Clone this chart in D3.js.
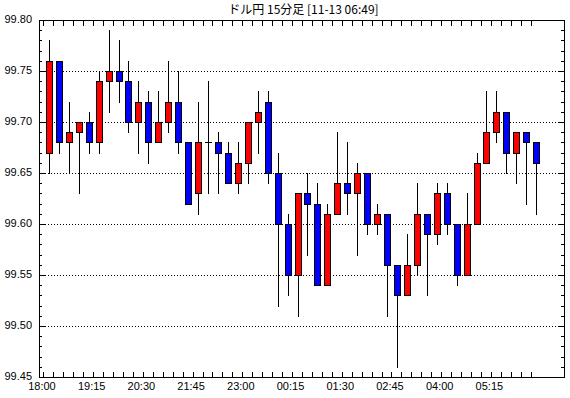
<!DOCTYPE html>
<html lang="ja">
<head>
<meta charset="utf-8">
<title>ドル円 15分足</title>
<script src="https://cdn.jsdelivr.net/npm/d3@7"></script>
<style>
  html, body { margin: 0; padding: 0; background: #fff; }
  svg { display: block; }
  .axis-label { font-family: "Liberation Sans", Arial, sans-serif; font-size: 11px; fill: #000; }
  .title { font-family: "Noto Sans CJK JP", sans-serif; font-size: 12px; fill: #000; }
</style>
</head>
<body>
<div id="chart"></div>
<script>
// ローソク足データ（15分足）
const opens  = [99.67, 99.76, 99.68, 99.69, 99.70, 99.68, 99.74, 99.75, 99.74, 99.70,
                99.72, 99.68, 99.70, 99.72, 99.68, 99.63, 99.68, 99.68, 99.67, 99.64,
                99.66, 99.70, 99.72, 99.65, 99.60, 99.55, 99.63, 99.62, 99.54, 99.61,
                99.64, 99.63, 99.65, 99.60, 99.61, 99.56, 99.53, 99.56, 99.61, 99.59,
                99.63, 99.60, 99.55, 99.60, 99.66, 99.69, 99.71, 99.67, 99.69, 99.68];
const highs  = [99.78, 99.76, 99.72, 99.70, 99.71, 99.75, 99.79, 99.78, 99.76, 99.74,
                99.73, 99.73, 99.76, 99.75, 99.68, 99.72, 99.74, 99.69, 99.68, 99.68,
                99.70, 99.73, 99.73, 99.67, 99.61, 99.63, 99.65, 99.64, 99.62, 99.69,
                99.68, 99.66, 99.65, 99.62, 99.61, 99.56, 99.59, 99.64, 99.61, 99.64,
                99.64, 99.60, 99.63, 99.67, 99.73, 99.73, 99.71, 99.69, 99.69, 99.68];
const lows   = [99.65, 99.67, 99.65, 99.63, 99.67, 99.67, 99.71, 99.72, 99.69, 99.67,
                99.66, 99.68, 99.69, 99.67, 99.62, 99.61, 99.63, 99.63, 99.64, 99.63,
                99.64, 99.67, 99.64, 99.52, 99.53, 99.51, 99.57, 99.54, 99.54, 99.61,
                99.61, 99.57, 99.59, 99.59, 99.51, 99.46, 99.53, 99.55, 99.53, 99.58,
                99.59, 99.54, 99.55, 99.60, 99.66, 99.68, 99.65, 99.64, 99.62, 99.61];
const closes = [99.76, 99.68, 99.69, 99.70, 99.68, 99.74, 99.75, 99.74, 99.70, 99.72,
                99.68, 99.70, 99.72, 99.68, 99.62, 99.68, 99.68, 99.67, 99.64, 99.66,
                99.70, 99.71, 99.65, 99.60, 99.55, 99.63, 99.62, 99.54, 99.61, 99.64,
                99.63, 99.65, 99.60, 99.61, 99.56, 99.53, 99.56, 99.61, 99.59, 99.63,
                99.60, 99.55, 99.60, 99.66, 99.69, 99.71, 99.67, 99.69, 99.68, 99.66];

// 軸ラベル
const timeLabels = ['18:00', '19:15', '20:30', '21:45', '23:00', '00:15', '01:30', '02:45', '04:00', '05:15'];
const labelStep = 5; // 5本ごと（75分）
const priceLabels = [99.45, 99.50, 99.55, 99.60, 99.65, 99.70, 99.75, 99.80];
const titleText = 'ドル円 15分足 [11-13 06:49]';

// 色設定
const colors = {
  up: '#ff0000',
  down: '#0000ff',
  line: '#000000'
};

// レイアウト
const width = 570;
const height = 398;
const plot = { left: 39, top: 20, right: 564, bottom: 377 };

const candles = opens.map((o, i) => ({ i, o, h: highs[i], l: lows[i], c: closes[i] }));

const svg = d3.select('#chart')
  .append('svg')
  .attr('width', width)
  .attr('height', height);

const x = d3.scaleLinear()
  .domain([-1, 51.8])
  .range([plot.left, plot.right]);

const y = d3.scaleLinear()
  .domain([99.45, 99.80])
  .range([plot.bottom, plot.top]);

const px = v => Math.round(v) + 0.5;

// グリッド（点線）
svg.append('g')
  .selectAll('line')
  .data(priceLabels.filter(v => v > 99.45 && v < 99.80))
  .enter()
  .append('line')
  .attr('x1', plot.left)
  .attr('x2', plot.right)
  .attr('y1', d => px(y(d)))
  .attr('y2', d => px(y(d)))
  .attr('stroke', colors.line)
  .attr('stroke-dasharray', '1,2')
  .attr('shape-rendering', 'crispEdges');

// 価格の目盛り（0.01ごと）
const minorTicks = d3.range(0, 36).map(k => 99.45 + k * 0.01);
const tickG = svg.append('g').attr('shape-rendering', 'crispEdges');
minorTicks.forEach((v, k) => {
  const len = k % 5 === 0 ? 6 : 3;
  const yy = px(y(v));
  tickG.append('line')
    .attr('x1', plot.left).attr('x2', plot.left + len)
    .attr('y1', yy).attr('y2', yy)
    .attr('stroke', colors.line);
  tickG.append('line')
    .attr('x1', plot.right - len).attr('x2', plot.right)
    .attr('y1', yy).attr('y2', yy)
    .attr('stroke', colors.line);
});

// 時間の目盛り
candles.forEach(d => {
  const xx = px(x(d.i) - 5.5);
  tickG.append('line')
    .attr('x1', xx).attr('x2', xx)
    .attr('y1', plot.top).attr('y2', plot.top + 6)
    .attr('stroke', colors.line);
  tickG.append('line')
    .attr('x1', xx).attr('x2', xx)
    .attr('y1', plot.bottom - 5).attr('y2', plot.bottom)
    .attr('stroke', colors.line);
});

// ヒゲ
const candleG = svg.append('g').attr('shape-rendering', 'crispEdges');
candleG.selectAll('line.wick')
  .data(candles)
  .enter()
  .append('line')
  .attr('class', 'wick')
  .attr('x1', d => px(x(d.i)))
  .attr('x2', d => px(x(d.i)))
  .attr('y1', d => Math.round(y(d.h)))
  .attr('y2', d => Math.round(y(d.l)) + 1)
  .attr('stroke', colors.line);

// 実体
candleG.selectAll('rect.body')
  .data(candles.filter(d => d.o !== d.c))
  .enter()
  .append('rect')
  .attr('class', 'body')
  .attr('x', d => Math.round(x(d.i)) - 2.5)
  .attr('y', d => px(y(Math.max(d.o, d.c))))
  .attr('width', 6)
  .attr('height', d => Math.round(y(Math.min(d.o, d.c))) - Math.round(y(Math.max(d.o, d.c))))
  .attr('fill', d => d.c > d.o ? colors.up : colors.down)
  .attr('stroke', colors.line);

// 同値（十字線）
candleG.selectAll('line.doji')
  .data(candles.filter(d => d.o === d.c))
  .enter()
  .append('line')
  .attr('class', 'doji')
  .attr('x1', d => Math.round(x(d.i)) - 3)
  .attr('x2', d => Math.round(x(d.i)) + 4)
  .attr('y1', d => px(y(d.o)))
  .attr('y2', d => px(y(d.o)))
  .attr('stroke', colors.line);

// 枠
svg.append('rect')
  .attr('x', plot.left + 0.5)
  .attr('y', plot.top + 0.5)
  .attr('width', plot.right - plot.left)
  .attr('height', plot.bottom - plot.top)
  .attr('fill', 'none')
  .attr('stroke', colors.line)
  .attr('shape-rendering', 'crispEdges');

// 価格ラベル
svg.append('g')
  .selectAll('text')
  .data(priceLabels)
  .enter()
  .append('text')
  .attr('class', 'axis-label')
  .attr('x', plot.left - 7)
  .attr('y', d => y(d) + 3)
  .attr('text-anchor', 'end')
  .text(d => d.toFixed(2));

// 時間ラベル
svg.append('g')
  .selectAll('text')
  .data(timeLabels)
  .enter()
  .append('text')
  .attr('class', 'axis-label')
  .attr('x', (d, k) => x(k * labelStep) - 7)
  .attr('y', plot.bottom + 13)
  .attr('text-anchor', 'middle')
  .text(d => d);

// タイトル
svg.append('text')
  .attr('class', 'title')
  .attr('x', (plot.left + plot.right) / 2 + 2)
  .attr('y', 14)
  .attr('text-anchor', 'middle')
  .text(titleText);
</script>
</body>
</html>
